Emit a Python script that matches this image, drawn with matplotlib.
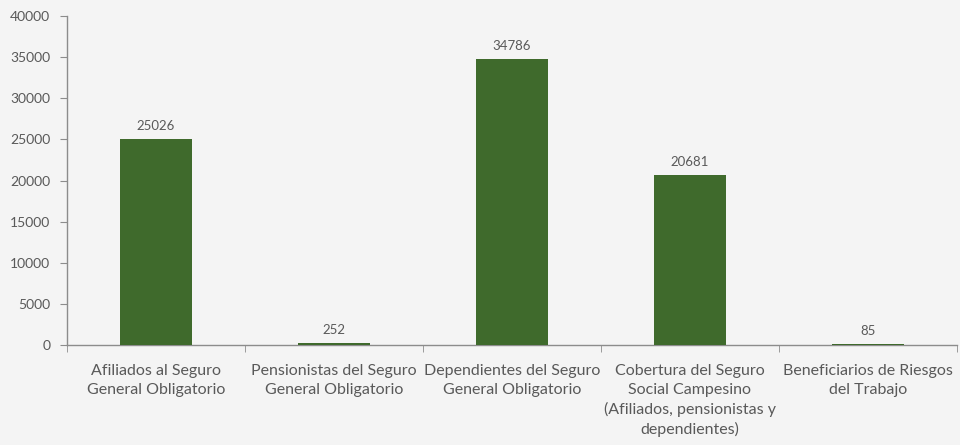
import numpy as np
import matplotlib.pyplot as plt

categories = [
    "Afiliados al Seguro\nGeneral Obligatorio",
    "Pensionistas del Seguro\nGeneral Obligatorio",
    "Dependientes del Seguro\nGeneral Obligatorio",
    "Cobertura del Seguro\nSocial Campesino\n(Afiliados, pensionistas y\ndependientes)",
    "Beneficiarios de Riesgos\ndel Trabajo",
]
values = [25026, 252, 34786, 20681, 85]
y_ticks = [0, 5000, 10000, 15000, 20000, 25000, 30000, 35000, 40000]

plt.rcParams['font.family'] = ['Lato', 'DejaVu Sans']
text_color = "#595959"
bar_color = "#3f6a2c"
bg = "#f4f4f4"

fig = plt.figure(figsize=(9.6, 4.45), dpi=100, facecolor=bg)
ax = fig.add_axes([0.0698, 0.2247, 0.927, 0.739])
ax.set_facecolor(bg)

x = np.arange(len(categories))
bars = ax.bar(x, values, width=0.4, color=bar_color, zorder=3)
for xi, v in zip(x, values):
    ax.text(xi, v + 900, str(v), ha='center', va='bottom', fontsize=9.5, color=text_color)

ax.set_xlim(-0.5, len(categories) - 0.5)
ax.set_ylim(0, 40000)
ax.set_yticks(y_ticks)
ax.set_yticklabels([str(t) for t in y_ticks], fontsize=10, color=text_color)

ax.set_xticks(x)
ax.set_xticklabels(categories, fontsize=11.5, color=text_color, linespacing=1.4)
ax.set_xticks(np.arange(len(categories) + 1) - 0.5, minor=True)
ax.tick_params(axis='x', which='major', length=0, pad=14)
ax.tick_params(axis='x', which='minor', length=5, color="#8c8c8c", direction='out')
ax.tick_params(axis='y', length=5, color="#8c8c8c", pad=7)

for side in ['top', 'right']:
    ax.spines[side].set_visible(False)
for side in ['left', 'bottom']:
    ax.spines[side].set_color("#8c8c8c")
    ax.spines[side].set_linewidth(1)

fig.savefig("out.png", dpi=100, facecolor=bg)
